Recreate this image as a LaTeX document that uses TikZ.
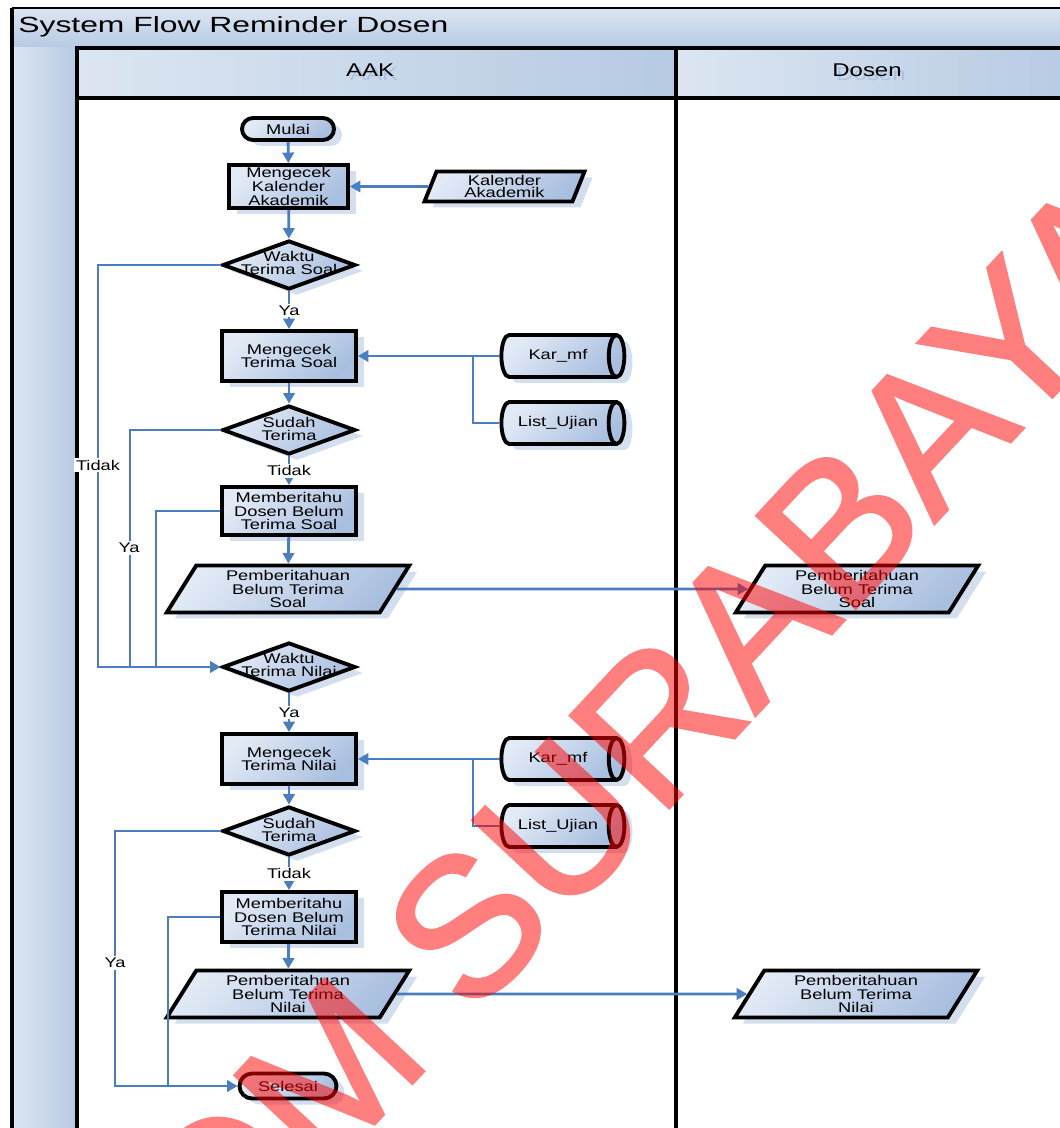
\documentclass[tikz,border=0pt]{standalone}
\usepackage{fontspec}
\setmainfont{Liberation Sans}[FakeStretch=1.3]
\newfontfamily\titlefnt{Liberation Sans}[FakeStretch=1.45]
\newfontfamily\wmfnt{Liberation Sans}[FakeBold=1.5]
\usetikzlibrary{shapes.geometric,shapes.misc,shadows,arrows.meta}
\definecolor{fillA}{HTML}{E2EAF6}
\definecolor{fillB}{HTML}{A9BFDF}
\definecolor{shadowc}{HTML}{D3DEEE}
\definecolor{flowc}{HTML}{4A7EBF}
\definecolor{hdrA}{HTML}{DCE6F2}
\definecolor{hdrB}{HTML}{B6CAE3}
\definecolor{ghost}{HTML}{9DB4D6}
\newcommand\nodefnt{\fontsize{8}{7.8}\selectfont}
\newcommand\kalfnt{\fontsize{8}{7}\selectfont}
\tikzset{
  box/.style={draw=black, line width=2.2pt, top color=fillA, bottom color=fillB, shading angle=45,
    drop shadow={shadow xshift=0.16cm, shadow yshift=-0.12cm, fill=shadowc, opacity=1},
    inner sep=0pt, align=center, font=\nodefnt},
  proc/.style={box, rectangle, minimum width=2.68cm, minimum height=1.0cm},
  dec/.style={box, diamond, minimum width=2.66cm, minimum height=0.98cm},
  dtext/.style={inner sep=0pt, align=center, font=\nodefnt},
  term/.style={box, rounded rectangle, minimum width=1.84cm, minimum height=0.44cm},
  io/.style={box, trapezium, trapezium left angle=52, trapezium right angle=128,
    trapezium stretches body, minimum width=4.85cm, minimum height=0.94cm},
  db/.style={box, cylinder, shape aspect=1.2, minimum width=0.84cm, minimum height=2.46cm},
  flow/.style={draw=flowc, line width=1.6pt, -{Triangle[length=6pt,width=6.5pt]}},
  plain/.style={draw=flowc, line width=1.6pt},
  lbl/.style={fill=white, inner sep=1pt, font=\nodefnt},
  lane/.style={line width=2.5pt, draw=black},
  hdr/.style={anchor=base, inner sep=0pt, font=\fontsize{10.5}{12}\selectfont},
  wm/.style={rotate=47, font=\wmfnt\fontsize{112}{112}\selectfont, text=red, inner sep=0pt}
}
\begin{document}
\begin{tikzpicture}[x=0.02cm,y=-0.02cm]
\useasboundingbox (0,0) rectangle (1060,1128);
\fill[white] (0,0) rectangle (1060,1128);
% pool and lanes
\shade[top color=hdrA, bottom color=hdrB] (12,8) rectangle (1080,48);
\shade[left color=hdrA, right color=hdrB] (12,48) rectangle (77,1140);
\shade[left color=hdrA, right color=hdrB] (77,48) rectangle (676,98);
\shade[left color=hdrA, right color=hdrB] (676,48) rectangle (1080,98);
\draw[line width=0.9pt] (1080,8) -- (12,8);
\draw[line width=2pt] (12,8) -- (12,1140);
\node[anchor=base west, inner sep=0pt, font=\titlefnt\fontsize{12.5}{14}\selectfont] (title) at (18,33) {System Flow Reminder Dosen};
\node[hdr, text=ghost, text opacity=0.6] (aakG) at (374,81) {AAK};
\node[hdr, text=ghost, text opacity=0.6] (dosenG) at (871,81) {Dosen};
\node[hdr] (aak) at (370,77) {AAK};
\node[hdr] (dosen) at (867,77) {Dosen};
\draw[lane] (77,1140) -- (77,48) -- (1080,48);
\draw[lane] (77,98) -- (1080,98);
\draw[lane] (676,48) -- (676,1140);

% upper flow
\node[term] (mulai) at (288,129) {Mulai};
\node[proc, minimum width=2.38cm, minimum height=0.86cm] (kal) at (288.5,186.5) {Mengecek\\Kalender\\Akademik};
\node[io, trapezium left angle=62, trapezium right angle=118, minimum width=3.2cm, minimum height=0.6cm, font=\kalfnt] (kalak) at (504.5,186.5) {Kalender\\Akademik};
\node[dec] (wts) at (289,265) {};
\node[dtext] (wtsT) at (289,263) {Waktu\\Terima Soal};
\node[proc] (mts) at (289,356) {Mengecek\\Terima Soal};
\node[db] (kar1) at (558,356) {Kar\_mf};
\node[db] (list1) at (558,423) {List\_Ujian};
\node[dec] (st1) at (289,430) {};
\node[dtext] (st1T) at (289,429) {Sudah\\Terima};
\node[proc, minimum height=0.96cm] (mds) at (289,511) {Memberitahu\\Dosen Belum\\Terima Soal};
\node[io] (ps) at (288,589) {Pemberitahuan\\Belum Terima\\Soal};
\node[io] (psd) at (857,589) {Pemberitahuan\\Belum Terima\\Soal};
\node[dec] (wtn) at (289,667) {};
\node[dtext] (wtnT) at (289,665) {Waktu\\Terima Nilai};
% lower flow
\node[proc] (mtn) at (289,759) {Mengecek\\Terima Nilai};
\node[db] (kar2) at (558,759) {Kar\_mf};
\node[db] (list2) at (558,826) {List\_Ujian};
\node[dec] (st2) at (289,831) {};
\node[dtext] (st2T) at (289,830) {Sudah\\Terima};
\node[proc] (mdn) at (289,917) {Memberitahu\\Dosen Belum\\Terima Nilai};
\node[io] (pn) at (288,994) {Pemberitahuan\\Belum Terima\\Nilai};
\node[io] (pnd) at (856,994) {Pemberitahuan\\Belum Terima\\Nilai};
\node[term, minimum width=1.94cm, minimum height=0.5cm] (sel) at (288,1086) {Selesai};

% connectors
\draw[flow] (mulai) -- (kal);
\draw[flow] (kal) -- (wts);
\draw[flow] (kalak) -- (kal);
\draw[flow] (wts) -- node[lbl] (yaA) {Ya} (mts);
\draw[flow] (kar1) -- (mts);
\coordinate (j1) at (473,356);
\draw[plain] (list1.west) -| (j1);
\draw[flow] (mts) -- (st1);
\draw[flow] (st1) -- node[lbl] (tidakB) {Tidak} (mds);
\draw[flow] (mds) -- (ps);
\draw[flow] (ps) -- (psd);
\coordinate (c1) at (98,265);
\draw[flow] (wts.west) -- (c1) |- (wtn.west);
\coordinate (c2) at (130,667);
\draw[plain] (st1.west) -| (c2);
\coordinate (c3) at (156,667);
\draw[plain] (mds.west) -| (c3);
\node[lbl] (tidakA) at (98,465) {Tidak};
\node[lbl] (yaB) at (129,548) {Ya};

\draw[flow] (wtn) -- node[lbl] (yaC) {Ya} (mtn);
\draw[flow] (kar2) -- (mtn);
\coordinate (j2) at (473,759);
\draw[plain] (list2.west) -| (j2);
\draw[flow] (mtn) -- (st2);
\draw[flow] (st2) -- node[lbl] (tidakD) {Tidak} (mdn);
\draw[flow] (mdn) -- (pn);
\draw[flow] (pn) -- (pnd);
\coordinate (c4) at (115,831);
\draw[flow] (st2.west) -- (c4) |- (sel.west);
\coordinate (c5) at (168,1086);
\draw[plain] (mdn.west) -| (c5);
\node[lbl] (yaD) at (115,963) {Ya};

% watermark
\begin{scope}[transparency group, opacity=0.5]
\node[wm] (wmark) at (502,888) {STIKOM SURABAYA};
\end{scope}
\end{tikzpicture}
\end{document}
